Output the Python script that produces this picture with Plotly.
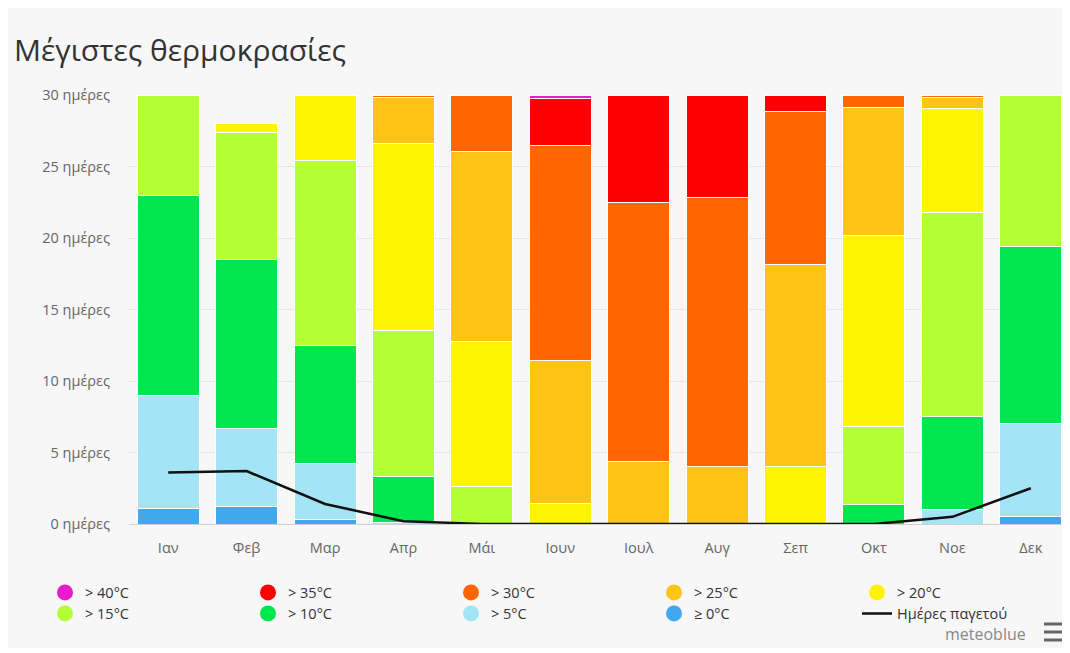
import plotly.graph_objects as go

months = ["Ιαν", "Φεβ", "Μαρ", "Απρ", "Μάι", "Ιουν", "Ιουλ", "Αυγ", "Σεπ", "Οκτ", "Νοε", "Δεκ"]

# days per month in each max-temperature class
days_ge0 = [1.1, 1.2, 0.3, 0, 0, 0, 0, 0, 0, 0, 0, 0.5]
days_gt5 = [7.9, 5.5, 3.9, 0.1, 0, 0, 0, 0, 0, 0, 1.0, 6.5]
days_gt10 = [14.0, 11.8, 8.3, 3.2, 0, 0, 0, 0, 0, 1.35, 6.55, 12.4]
days_gt15 = [7.0, 8.9, 12.9, 10.2, 2.6, 0, 0, 0, 0, 5.45, 14.25, 10.6]
days_gt20 = [0, 0.6, 4.6, 13.1, 10.15, 1.45, 0, 0, 4.0, 13.35, 7.25, 0]
days_gt25 = [0, 0, 0, 3.2, 13.3, 10.0, 4.35, 4.0, 14.15, 9.0, 0.8, 0]
days_gt30 = [0, 0, 0, 0.2, 3.95, 15.0, 18.1, 18.8, 10.7, 0.85, 0.15, 0]
days_gt35 = [0, 0, 0, 0, 0, 3.3, 7.55, 7.2, 1.15, 0, 0, 0]
days_gt40 = [0, 0, 0, 0, 0, 0.25, 0, 0, 0, 0, 0, 0]
frost_days = [3.6, 3.7, 1.4, 0.2, 0, 0, 0, 0, 0, 0, 0.5, 2.5]

y_ticks = [0, 5, 10, 15, 20, 25, 30]
y_tick_text = [f"{v} ημέρες" for v in y_ticks]

# bottom to top stacking order
classes = [
    ("≥ 0°C", days_ge0, "#42a8ee"),
    ("> 5°C", days_gt5, "#a3e4f5"),
    ("> 10°C", days_gt10, "#00e64f"),
    ("> 15°C", days_gt15, "#b4ff33"),
    ("> 20°C", days_gt20, "#fff500"),
    ("> 25°C", days_gt25, "#ffc414"),
    ("> 30°C", days_gt30, "#ff6600"),
    ("> 35°C", days_gt35, "#ff0000"),
    ("> 40°C", days_gt40, "#e81ccc"),
]

# the page body adds an 8px margin, so work in page pixels and shift
OFF = 8
W, H = 1070 - OFF, 653 - OFF
PLOT_L, PLOT_R, PLOT_T, PLOT_B = 129 - OFF, 1070 - OFF, 95 - OFF, 524 - OFF


def px_x(px):
    return (px - OFF - PLOT_L) / (PLOT_R - PLOT_L)


def px_y(py):
    return (PLOT_B - (py - OFF)) / (PLOT_B - PLOT_T)


fig = go.Figure()

for name, values, color in classes:
    fig.add_trace(go.Bar(
        x=months,
        y=[v if v else None for v in values],
        name=name,
        legendgroup=name,
        showlegend=False,
        marker={"color": color, "line": {"color": "#ffffff", "width": 1}},
    ))

# legend entries with round symbols: first five on row one, rest on row two
for i, (name, values, color) in enumerate(reversed(classes)):
    fig.add_trace(go.Scatter(
        x=[None], y=[None], mode="markers", name=name, legendgroup=name,
        legend="legend" if i < 5 else "legend2",
        marker={"color": color, "size": 16, "symbol": "circle"},
    ))

fig.add_trace(go.Scatter(
    x=months,
    y=frost_days,
    mode="lines",
    name="Ημέρες παγετού",
    legend="legend2",
    line={"color": "#111111", "width": 2.5},
))

legend_style = {
    "orientation": "h",
    "x": px_x(45), "xanchor": "left",
    "yanchor": "middle",
    "entrywidth": 158,
    "entrywidthmode": "pixels",
    "font": {"size": 14.5, "color": "#333333"},
    "bgcolor": "rgba(0,0,0,0)",
    "tracegroupgap": 0,
}

fig.update_layout(
    width=W,
    height=H,
    barmode="stack",
    bargap=0.21,
    paper_bgcolor="#ffffff",
    plot_bgcolor="rgba(0,0,0,0)",
    font={"family": "Open Sans, DejaVu Sans, sans-serif", "color": "#666666", "size": 14},
    margin={"l": PLOT_L, "r": W - PLOT_R, "t": PLOT_T, "b": H - PLOT_B},
    title={
        "text": "Μέγιστες θερμοκρασίες",
        "x": (14 - OFF) / W, "xanchor": "left", "xref": "container",
        "y": 1 - (50 - OFF) / H, "yanchor": "middle", "yref": "container",
        "font": {"size": 30, "color": "#333333"},
    },
    xaxis={
        "showgrid": False,
        "showline": True,
        "linecolor": "#d0d0d0",
        "ticks": "",
        "ticklabelstandoff": 11,
        "tickfont": {"size": 14.5, "color": "#666666"},
        "fixedrange": True,
    },
    yaxis={
        "range": [0, 30],
        "tickvals": y_ticks,
        "ticktext": y_tick_text,
        "showgrid": True,
        "gridcolor": "#e6e6e6",
        "zeroline": False,
        "ticklabelstandoff": 18,
        "tickfont": {"size": 14.5, "color": "#666666"},
        "fixedrange": True,
    },
    legend={**legend_style, "y": px_y(592.5)},
    legend2={**legend_style, "y": px_y(613.5)},
    shapes=[
        {"type": "rect", "xref": "paper", "yref": "paper", "layer": "below",
         "x0": px_x(0), "x1": px_x(1066), "y0": px_y(648), "y1": px_y(0),
         "fillcolor": "#f7f7f7", "line": {"width": 0}},
        *[
            {"type": "line", "xref": "paper", "yref": "paper",
             "x0": px_x(1044), "x1": px_x(1067), "y0": px_y(py), "y1": px_y(py),
             "line": {"color": "#666666", "width": 3}}
            for py in (624, 632, 640)
        ],
    ],
    annotations=[
        {"text": "meteoblue", "xref": "paper", "yref": "paper",
         "x": px_x(1028), "xanchor": "right", "y": px_y(634), "yanchor": "middle",
         "showarrow": False, "font": {"size": 16, "color": "#888888"}},
    ],
)

fig.write_html("out.html")
